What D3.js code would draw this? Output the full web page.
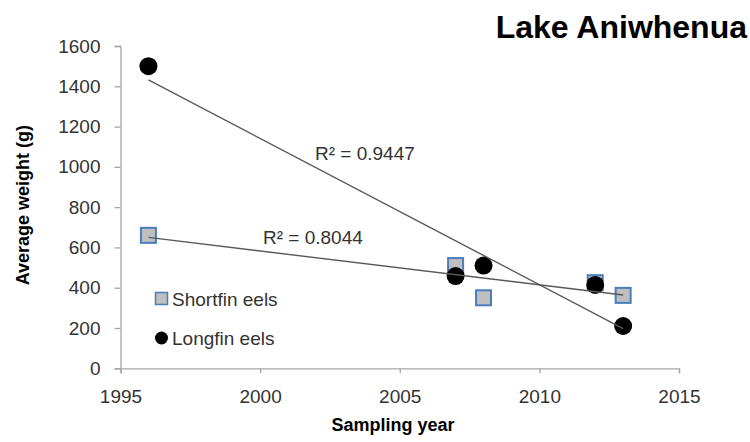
<!DOCTYPE html>
<html>
<head>
<meta charset="utf-8">
<script src="https://cdn.jsdelivr.net/npm/d3@7"></script>
<style>
  html, body { margin: 0; padding: 0; background: #fff; }
  svg { display: block; font-family: "Liberation Sans", Arial, sans-serif; }
</style>
</head>
<body>
<svg id="chart" width="750" height="442"></svg>
<script>
// ---- data ----
const years = [1996, 2007, 2008, 2012, 2013];
const shortfin = [660, 510, 350, 425, 362];
const longfin = [1500, 458, 510, 414, 210];
const xTicks = [1995, 2000, 2005, 2010, 2015];
const yTicks = [0, 200, 400, 600, 800, 1000, 1200, 1400, 1600];
const seriesNames = ["Shortfin eels", "Longfin eels"];
const r2Labels = ["R\u00B2 = 0.8044", "R\u00B2 = 0.9447"];
const title = "Lake Aniwhenua";
const xTitle = "Sampling year";
const yTitle = "Average weight (g)";

// ---- layout ----
const svg = d3.select("#chart");
const x = d3.scaleLinear().domain([1995, 2015]).range([120.5, 679]);
const y = d3.scaleLinear().domain([0, 1600]).range([368.3, 46]);
const axisColor = "#a6a6a6";
const textColor = "#333333";

// axes
const gy = svg.append("g").attr("transform", `translate(${x(1995)},0)`)
  .call(d3.axisLeft(y).tickValues(yTicks).tickSize(6).tickPadding(14).tickFormat(d3.format("d")));
const gx = svg.append("g").attr("transform", `translate(0,${y(0)})`)
  .call(d3.axisBottom(x).tickValues(xTicks).tickSize(5).tickPadding(6).tickFormat(d3.format("d")));
[gx, gy].forEach(g => {
  g.select(".domain").attr("stroke", axisColor).attr("stroke-width", 1.3);
  g.selectAll(".tick line").attr("stroke", axisColor).attr("stroke-width", 1.3);
  g.selectAll(".tick text").attr("fill", textColor).attr("font-size", 19)
    .attr("font-family", "Liberation Sans, Arial, sans-serif");
});
gx.selectAll(".tick text").attr("y", 0).attr("dy", 0).attr("transform", "translate(0,35)");

// regression trendline helper
function fit(xs, ys) {
  const mx = d3.mean(xs), my = d3.mean(ys);
  let sxy = 0, sxx = 0;
  xs.forEach((v, i) => { sxy += (v - mx) * (ys[i] - my); sxx += (v - mx) * (v - mx); });
  const b = sxy / sxx;
  return t => my + b * (t - mx);
}

// markers: shortfin squares
const sq = 15;
svg.append("g").selectAll("rect").data(years.map((yr, i) => [yr, shortfin[i]])).join("rect")
  .attr("x", d => x(d[0]) - sq / 2).attr("y", d => y(d[1]) - sq / 2)
  .attr("width", sq).attr("height", sq)
  .attr("fill", "#bfbfbf").attr("stroke", "#4a7ebb").attr("stroke-width", 2);

// longfin circles
svg.append("g").selectAll("circle").data(years.map((yr, i) => [yr, longfin[i]])).join("circle")
  .attr("cx", d => x(d[0])).attr("cy", d => y(d[1])).attr("r", 9)
  .attr("fill", "#000");

// trendlines
[shortfin, longfin].forEach(vals => {
  const f = fit(years, vals);
  const x0 = d3.min(years), x1 = d3.max(years);
  svg.append("line")
    .attr("x1", x(x0)).attr("y1", y(f(x0)))
    .attr("x2", x(x1)).attr("y2", y(f(x1)))
    .attr("stroke", "#595959").attr("stroke-width", 1.4);
});

// R² labels
svg.append("text").attr("x", 263).attr("y", 244).attr("font-size", 19).attr("fill", textColor).text(r2Labels[0]);
svg.append("text").attr("x", 315).attr("y", 160).attr("font-size", 19).attr("fill", textColor).text(r2Labels[1]);

// legend
const lg = svg.append("g");
lg.append("rect").attr("x", 155.5).attr("y", 292.5).attr("width", 12).attr("height", 12)
  .attr("fill", "#bfbfbf").attr("stroke", "#4a7ebb").attr("stroke-width", 1.5);
lg.append("text").attr("x", 172).attr("y", 305.5).attr("font-size", 19).attr("fill", textColor).text(seriesNames[0]);
lg.append("circle").attr("cx", 161.5).attr("cy", 338).attr("r", 6.5).attr("fill", "#000");
lg.append("text").attr("x", 172).attr("y", 344.5).attr("font-size", 19).attr("fill", textColor).text(seriesNames[1]);

// titles
svg.append("text").attr("x", 747).attr("y", 38).attr("text-anchor", "end")
  .attr("font-size", 32).attr("font-weight", "bold").attr("fill", "#000").text(title);
svg.append("text").attr("x", 393).attr("y", 431).attr("text-anchor", "middle")
  .attr("font-size", 18).attr("font-weight", "bold").attr("fill", "#000").text(xTitle);
svg.append("text").attr("transform", `translate(29,${(y(0) + y(1600)) / 2 - 2}) rotate(-90)`)
  .attr("text-anchor", "middle")
  .attr("font-size", 18).attr("font-weight", "bold").attr("fill", "#000").text(yTitle);
</script>
</body>
</html>
